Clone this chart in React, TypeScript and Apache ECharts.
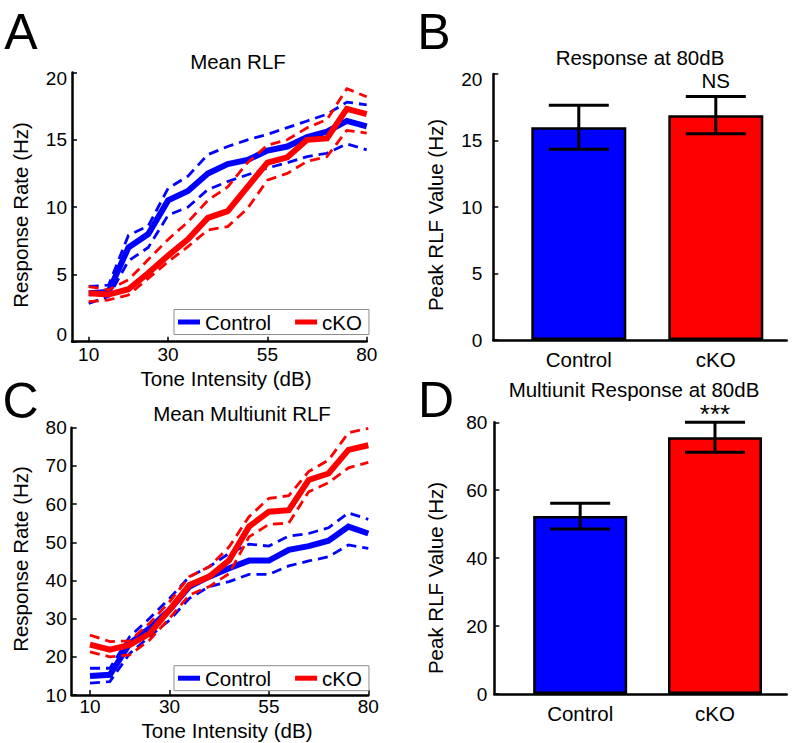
import React, { useEffect, useRef } from 'react';
import * as echarts from 'echarts';

// ---------- data ----------
const toneDb = [10, 15, 20, 25, 30, 35, 40, 45, 50, 55, 60, 65, 70, 75, 80];
const toneTicks = [10, 30, 55, 80];

// Panel A: mean RLF (single units)
const rlfCtrlMean = [3.6, 3.7, 7.0, 8.0, 10.5, 11.2, 12.5, 13.2, 13.5, 14.2, 14.5, 15.2, 15.6, 16.4, 16.0];
const rlfCtrlUpper = [4.1, 4.2, 7.9, 8.6, 11.4, 12.3, 13.9, 14.5, 15.0, 15.4, 15.9, 16.4, 16.9, 17.8, 17.6];
const rlfCtrlLower = [2.85, 3.35, 6.0, 7.0, 9.4, 10.0, 11.3, 11.9, 12.4, 12.9, 13.3, 13.75, 14.0, 14.7, 14.25];
const rlfCkoMean = [3.6, 3.5, 3.9, 5.1, 6.4, 7.6, 9.2, 9.7, 11.5, 13.3, 13.7, 15.0, 15.1, 17.3, 16.9];
const rlfCkoUpper = [4.1, 3.85, 4.6, 6.1, 7.6, 8.9, 10.5, 11.5, 13.3, 14.6, 15.0, 15.9, 16.5, 18.8, 18.2];
const rlfCkoLower = [2.97, 3.1, 3.47, 4.7, 5.95, 7.06, 8.3, 8.55, 9.9, 12.0, 12.5, 13.4, 13.75, 15.7, 15.5];

// Panel C: mean multiunit RLF
const muCtrlMean = [15.0, 15.3, 23.5, 27.5, 32.3, 38.4, 41.0, 43.2, 45.2, 45.2, 48.0, 49.0, 50.4, 54.1, 52.3];
const muCtrlUpper = [17.0, 17.0, 25.3, 30.1, 35.3, 41.0, 43.6, 47.1, 49.5, 49.0, 51.6, 52.3, 53.8, 57.7, 56.0];
const muCtrlLower = [13.1, 13.5, 20.9, 25.3, 29.6, 35.3, 38.4, 39.7, 41.6, 41.6, 43.8, 45.1, 46.2, 49.3, 48.4];
const muCkoMean = [23.2, 21.9, 23.1, 26.1, 32.3, 38.8, 41.0, 45.3, 54.1, 58.0, 58.4, 66.3, 68.0, 74.2, 75.4];
const muCkoUpper = [25.7, 24.0, 24.2, 28.8, 34.4, 41.0, 43.6, 48.8, 56.7, 61.5, 62.2, 68.5, 71.5, 78.7, 79.8];
const muCkoLower = [21.3, 20.0, 20.5, 24.4, 30.1, 36.2, 38.4, 41.8, 51.4, 54.7, 55.0, 63.2, 65.6, 69.5, 70.9];

// Panels B & D: peak values at 80 dB
const peakGroups = ['Control', 'cKO'];
const groupPos = [1, 2];
const peakMean = [16.0, 16.9];
const peakErr = [1.65, 1.4];
const peakSig = ['', 'NS'];
const muPeakMean = [52.4, 75.6];
const muPeakErr = [3.8, 4.45];
const muPeakSig = ['', '***'];

// ---------- styling ----------
const FONT = '"Liberation Sans", Arial, Helvetica, sans-serif';
const BLUE = '#0000ff';
const RED = '#ff0000';
const BLACK = '#000000';
const TICK_FS = 19;

function curve(name: string, values: number[], gi: number, color: string, dashed: boolean) {
  return {
    type: 'line',
    name,
    xAxisIndex: gi,
    yAxisIndex: gi,
    data: toneDb.map((x, i) => [x, values[i]]),
    showSymbol: false,
    symbol: 'none',
    silent: true,
    itemStyle: { color },
    lineStyle: { color, width: dashed ? 2.8 : 6, type: dashed ? [10, 6] : 'solid', cap: 'butt', join: 'miter' },
  };
}

function xToneAxis(gi: number, min: number, margin: number) {
  return {
    gridIndex: gi,
    type: 'value',
    min,
    max: 80,
    axisLine: { show: true, onZero: false, lineStyle: { color: BLACK, width: 2.5 } },
    axisTick: { show: true, inside: true, length: 5, customValues: toneTicks, lineStyle: { color: BLACK, width: 1.5 } },
    axisLabel: { customValues: toneTicks, color: BLACK, fontSize: TICK_FS, fontFamily: FONT, margin },
    splitLine: { show: false },
  };
}

function yAxis(gi: number, min: number, max: number, interval: number, margin: number, topPad: number, botPad: number) {
  return {
    gridIndex: gi,
    type: 'value',
    min,
    max,
    interval,
    axisLine: { show: true, onZero: false, lineStyle: { color: BLACK, width: 2.5 } },
    axisTick: { show: true, inside: true, length: 5, lineStyle: { color: BLACK, width: 1.5 } },
    axisLabel: {
      color: BLACK,
      fontSize: TICK_FS,
      fontFamily: FONT,
      margin,
      formatter: (v: number) => (v === max && topPad ? `{t|${v}}` : v === min && botPad ? `{b|${v}}` : `${v}`),
      rich: {
        t: { padding: [topPad, 0, 0, 0], fontSize: TICK_FS, fontFamily: FONT, color: BLACK },
        b: { padding: [0, 0, botPad, 0], fontSize: TICK_FS, fontFamily: FONT, color: BLACK },
      },
    },
    splitLine: { show: false },
  };
}

function xGroupAxis(gi: number, min: number, max: number) {
  return {
    gridIndex: gi,
    type: 'value',
    min,
    max,
    axisLine: { show: true, onZero: false, lineStyle: { color: BLACK, width: 2.5 } },
    axisTick: { show: false },
    axisLabel: {
      customValues: groupPos,
      color: BLACK,
      fontSize: 20.5,
      fontFamily: FONT,
      margin: 9,
      formatter: (v: number) => peakGroups[groupPos.indexOf(Math.round(v))] || '',
    },
    splitLine: { show: false },
  };
}

function bars(gi: number, means: number[], width: number) {
  return {
    type: 'bar',
    name: 'bars' + gi,
    xAxisIndex: gi,
    yAxisIndex: gi,
    barWidth: width,
    silent: true,
    data: means.map((m, i) => ({
      value: [groupPos[i], m],
      itemStyle: { color: i === 0 ? BLUE : RED, borderColor: BLACK, borderWidth: 2.5 },
    })),
  };
}

function errorBars(gi: number, means: number[], errs: number[], sigs: string[], sigOffset: number, sigSize: number) {
  return {
    type: 'custom',
    name: 'err' + gi,
    xAxisIndex: gi,
    yAxisIndex: gi,
    z: 5,
    silent: true,
    data: means.map((m, i) => [groupPos[i], m, errs[i]]),
    renderItem: (params: any, api: any) => {
      const x = api.value(0);
      const m = api.value(1);
      const e = api.value(2);
      const hi = api.coord([x, m + e]);
      const lo = api.coord([x, m - e]);
      const half = 30;
      const st = { stroke: BLACK, lineWidth: 3 };
      const children: any[] = [
        { type: 'line', shape: { x1: hi[0], y1: hi[1], x2: lo[0], y2: lo[1] }, style: st },
        { type: 'line', shape: { x1: hi[0] - half, y1: hi[1], x2: hi[0] + half, y2: hi[1] }, style: st },
        { type: 'line', shape: { x1: lo[0] - half, y1: lo[1], x2: lo[0] + half, y2: lo[1] }, style: st },
      ];
      const label = sigs[params.dataIndex];
      if (label) {
        children.push({
          type: 'text',
          x: hi[0],
          y: hi[1] - sigOffset,
          style: { text: label, fill: BLACK, fontSize: sigSize, fontFamily: FONT, align: 'center', verticalAlign: 'middle' },
        });
      }
      return { type: 'group', children };
    },
  };
}

function legend(top: number) {
  return {
    left: 174,
    top,
    orient: 'horizontal',
    data: [
      { name: 'Control', icon: 'rect' },
      { name: 'cKO', icon: 'rect' },
    ],
    itemWidth: 22,
    itemHeight: 5,
    itemGap: 24,
    padding: [2, 7, 2, 4],
    borderColor: '#8c8c8c',
    borderWidth: 1,
    backgroundColor: '#ffffff',
    selectedMode: false,
    textStyle: { color: BLACK, fontSize: 20.5, fontFamily: FONT },
  };
}

function txt(text: string, x: number, y: number, size: number, rotate = false) {
  return {
    type: 'text',
    x,
    y,
    rotation: rotate ? Math.PI / 2 : 0,
    silent: true,
    style: { text, fill: BLACK, fontSize: size, fontFamily: FONT, align: 'center', verticalAlign: 'middle' },
  };
}

function buildOption() {
  return {
    animation: false,
    backgroundColor: '#ffffff',
    textStyle: { fontFamily: FONT },
    grid: [
      { left: 72, top: 72.5, width: 294.7, height: 269.2 },
      { left: 493.3, top: 74, width: 293.4, height: 266 },
      { left: 71.7, top: 427.7, width: 296.6, height: 267.3 },
      { left: 494.3, top: 422.3, width: 292.4, height: 271.7 },
    ],
    xAxis: [
      xToneAxis(0, 5.8, 3),
      xGroupAxis(1, 0.376, 2.5175),
      xToneAxis(2, 5.4, 2),
      xGroupAxis(3, 0.363, 2.532),
    ],
    yAxis: [
      yAxis(0, 0, 20, 5, 5, 11, 14),
      yAxis(1, 0, 20, 5, 11, 10, 0),
      yAxis(2, 10, 80, 10, 5, 0, 0),
      yAxis(3, 0, 80, 20, 7, 0, 0),
    ],
    legend: [legend(309.5), legend(665.7)],
    series: [
      curve('Control upper A', rlfCtrlUpper, 0, BLUE, true),
      curve('Control lower A', rlfCtrlLower, 0, BLUE, true),
      curve('Control', rlfCtrlMean, 0, BLUE, false),
      curve('cKO upper A', rlfCkoUpper, 0, RED, true),
      curve('cKO lower A', rlfCkoLower, 0, RED, true),
      curve('cKO', rlfCkoMean, 0, RED, false),
      curve('Control upper C', muCtrlUpper, 2, BLUE, true),
      curve('Control lower C', muCtrlLower, 2, BLUE, true),
      curve('Control', muCtrlMean, 2, BLUE, false),
      curve('cKO upper C', muCkoUpper, 2, RED, true),
      curve('cKO lower C', muCkoLower, 2, RED, true),
      curve('cKO', muCkoMean, 2, RED, false),
      bars(1, peakMean, 95),
      errorBars(1, peakMean, peakErr, peakSig, 16, 20.5),
      bars(3, muPeakMean, 94),
      errorBars(3, muPeakMean, muPeakErr, muPeakSig, 8.5, 26),
    ],
    graphic: [
      txt('A', 21, 32, 50),
      txt('B', 434, 32, 50),
      txt('C', 20.5, 401, 50),
      txt('D', 436, 400, 50),
      txt('Mean RLF', 238, 61, 20.5),
      txt('Response at 80dB', 640, 57, 20.5),
      txt('Mean Multiunit RLF', 242, 413, 20.5),
      txt('Multiunit Response at 80dB', 634, 389, 20.5),
      txt('Response Rate (Hz)', 20, 215, 20.5, true),
      txt('Response Rate (Hz)', 20, 559, 20.5, true),
      txt('Peak RLF Value (Hz)', 435.5, 215, 20.5, true),
      txt('Peak RLF Value (Hz)', 435.5, 578, 20.5, true),
      txt('Tone Intensity (dB)', 226, 378, 20.5),
      txt('Tone Intensity (dB)', 227, 730.5, 20.5),
    ],
  };
}

export default function App() {
  const ref = useRef<HTMLDivElement>(null);
  useEffect(() => {
    if (!ref.current) return;
    const chart = echarts.init(ref.current, null, { renderer: 'svg' });
    chart.setOption(buildOption() as any);
    return () => chart.dispose();
  }, []);
  return (
    <div
      ref={ref}
      style={{ position: 'fixed', left: 0, top: 0, width: 794, height: 743, background: '#ffffff' }}
    />
  );
}
